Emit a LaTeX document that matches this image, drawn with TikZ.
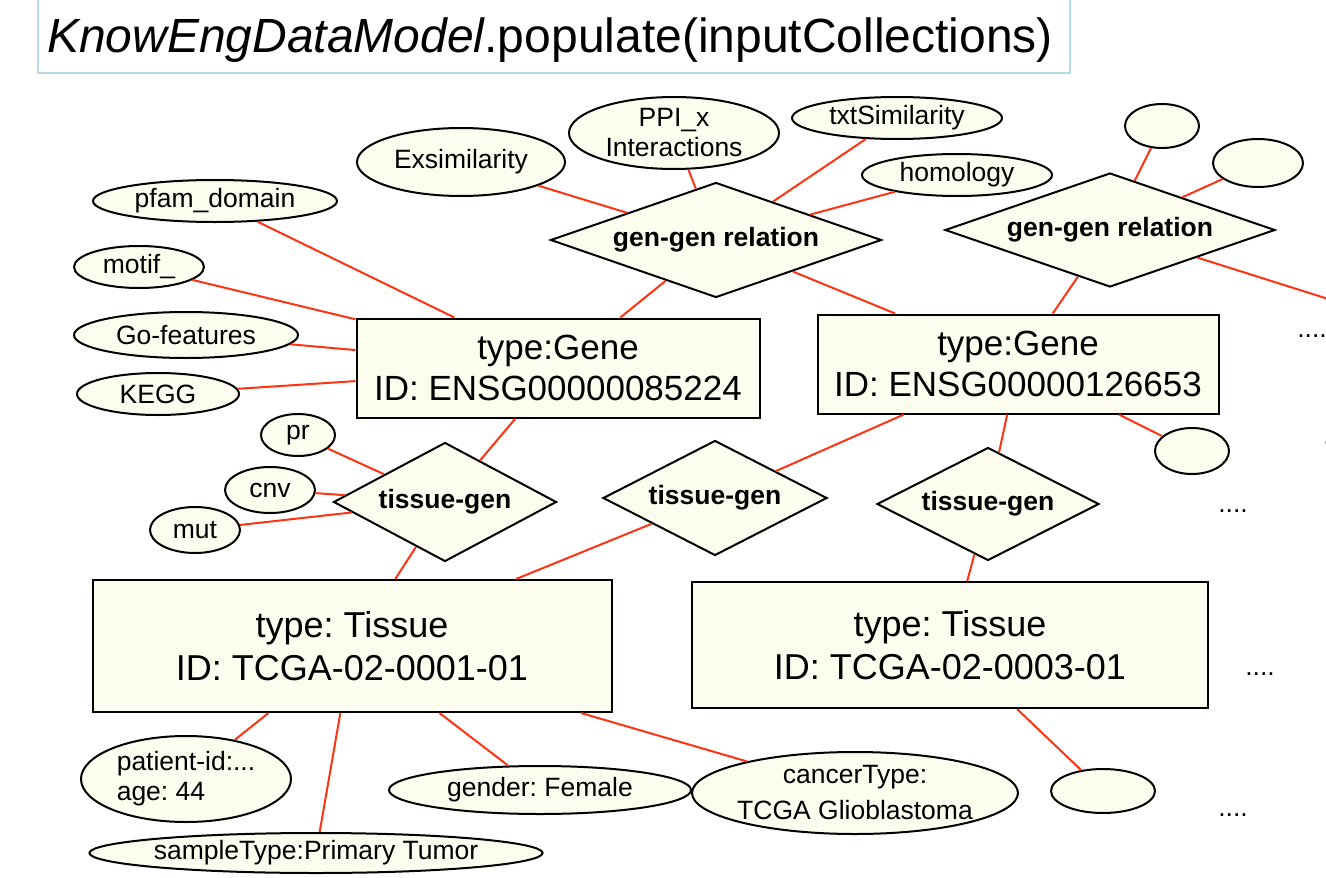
\documentclass[tikz,border=0pt]{standalone}
\usepackage{fontspec}
\setmainfont{Liberation Sans}
\usetikzlibrary{shapes.geometric}

\definecolor{entfill}{HTML}{FDFDEF}
\definecolor{linkred}{HTML}{FF3311}
\definecolor{titleframe}{HTML}{B7DDE2}

\frenchspacing

\begin{document}
\begin{tikzpicture}[x=1pt,y=-1pt,
  entity/.style={draw,line width=2pt,fill=entfill,rectangle,inner sep=0pt,align=center,
    font=\fontsize{35}{41}\selectfont},
  relation/.style={draw,line width=2pt,fill=entfill,diamond,aspect=2.5,inner sep=0pt,
    font=\bfseries\fontsize{26.5}{31}\selectfont},
  attr/.style={draw,line width=2pt,fill=entfill,ellipse,inner sep=0pt,align=center,
    font=\fontsize{26.5}{30}\selectfont},
  link/.style={draw=linkred,line width=2pt},
  more/.style={inner sep=0pt,font=\fontsize{26.5}{30}\selectfont}]

% page
\useasboundingbox (0,0) rectangle (1326,878);
\clip (0,0) rectangle (1326,878);

% title
\draw[titleframe,line width=2pt] (38,-10) rectangle (1070,73);
\node[inner sep=0pt,font=\fontsize{48}{58}\selectfont] (title) at (550,40)
  {\textit{KnowEngDataModel}.populate(inputCollections)};

% genes
\node[entity,minimum width=403pt,minimum height=99pt] (gene1) at (558,368)
  {type:Gene\\ID: ENSG00000085224};
\node[entity,minimum width=401pt,minimum height=99pt] (gene2) at (1018,364)
  {type:Gene\\ID: ENSG00000126653};

% tissues
\node[entity,minimum width=519pt,minimum height=132pt,font=\fontsize{36}{43}\selectfont]
  (tissue1) at (352,646) {type: Tissue\\ID: TCGA-02-0001-01};
\node[entity,minimum width=516pt,minimum height=126pt,font=\fontsize{36}{43}\selectfont]
  (tissue2) at (950,645) {type: Tissue\\ID: TCGA-02-0003-01};

% relations
\node[relation,aspect=3,minimum width=331pt,minimum height=115pt] (gg1) at (716,240) {gen-gen relation};
\node[relation,aspect=3,minimum width=330pt,minimum height=114pt] (gg2) at (1110,230) {gen-gen relation};
\node[relation,aspect=2,minimum width=223pt,minimum height=119pt] (tg1) at (445,502) {tissue-gen};
\node[relation,aspect=2,minimum width=224pt,minimum height=115pt] (tg2) at (715,498) {tissue-gen};
\node[relation,aspect=2,minimum width=222pt,minimum height=113pt] (tg3) at (988,504) {tissue-gen};

% gene attributes
\node[attr,minimum width=244pt,minimum height=42pt] (pfam) at (215,201) {pfam\_domain};
\node[attr,minimum width=130pt,minimum height=42pt] (motif) at (139,267) {motif\_};
\node[attr,minimum width=224pt,minimum height=46pt] (gofeat) at (186,335) {Go-features};
\node[attr,minimum width=162pt,minimum height=42pt] (kegg) at (158,394) {KEGG};
\node[attr,minimum width=74pt,minimum height=46pt] (gattr) at (1192,451) {};

% relation attributes
\node[attr,minimum width=208pt,minimum height=68pt] (exsim) at (461,162) {Exsimilarity};
\node[attr,minimum width=210pt,minimum height=72pt,inner ysep=-4pt] (ppi) at (674,133) {PPI\_x\\Interactions};
\node[attr,minimum width=210pt,minimum height=42pt] (txtsim) at (897,118) {txtSimilarity};
\node[attr,minimum width=190pt,minimum height=42pt] (homol) at (957,175) {homology};
\node[attr,minimum width=74pt,minimum height=44pt] (rattr1) at (1162,126) {};
\node[attr,minimum width=90pt,minimum height=48pt] (rattr2) at (1258,163) {};
\coordinate (offedge) at (1420,328);

% tissue-gen attributes
\node[attr,minimum width=74pt,minimum height=42pt] (pr) at (298,435) {pr};
\node[attr,minimum width=90pt,minimum height=46pt] (cnv) at (270,490) {cnv};
\node[attr,minimum width=90pt,minimum height=46pt] (mut) at (195,530) {mut};

% tissue attributes
\node[attr,minimum width=210pt,minimum height=86pt,align=left,inner ysep=-3pt] (patient) at (186,779)
  {patient-id:...\\age: 44};
\node[attr,minimum width=444pt,minimum height=40pt,inner xsep=-2pt] (sample) at (316,853)
  {sampleType:Primary Tumor};
\node[attr,minimum width=302pt,minimum height=48pt] (gender) at (540,790) {gender: Female};
\node[attr,minimum width=326pt,minimum height=82pt,inner sep=-4pt,
  font=\fontsize{26.5}{36}\selectfont] (cancer) at (855,793) {cancerType:\\TCGA Glioblastoma};
\node[attr,minimum width=104pt,minimum height=44pt] (tattr) at (1103,791) {};

% continuation marks
\node[more] (dots1) at (1312,336) {....};
\node[more] (dots2) at (1338,443) {....};
\node[more] (dots3) at (1233,511) {....};
\node[more] (dots4) at (1260,674) {....};
\node[more] (dots5) at (1233,815) {....};

% connectors
\foreach \a/\b in {pfam/gene1,motif/gene1,gofeat/gene1,kegg/gene1,
    exsim/gg1,ppi/gg1,txtsim/gg1,homol/gg1,gg1/gene1,gg1/gene2,
    rattr1/gg2,rattr2/gg2,gg2/gene2,gg2/offedge,gene2/gattr,
    gene1/tg1,pr/tg1,cnv/tg1,mut/tg1,tg1/tissue1,
    gene2/tg2,tg2/tissue1,gene2/tg3,tg3/tissue2,
    tissue1/patient,tissue1/sample,tissue1/gender,tissue1/cancer,tissue2/tattr}
  \draw[link] (\a) -- (\b);

\end{tikzpicture}
\end{document}
